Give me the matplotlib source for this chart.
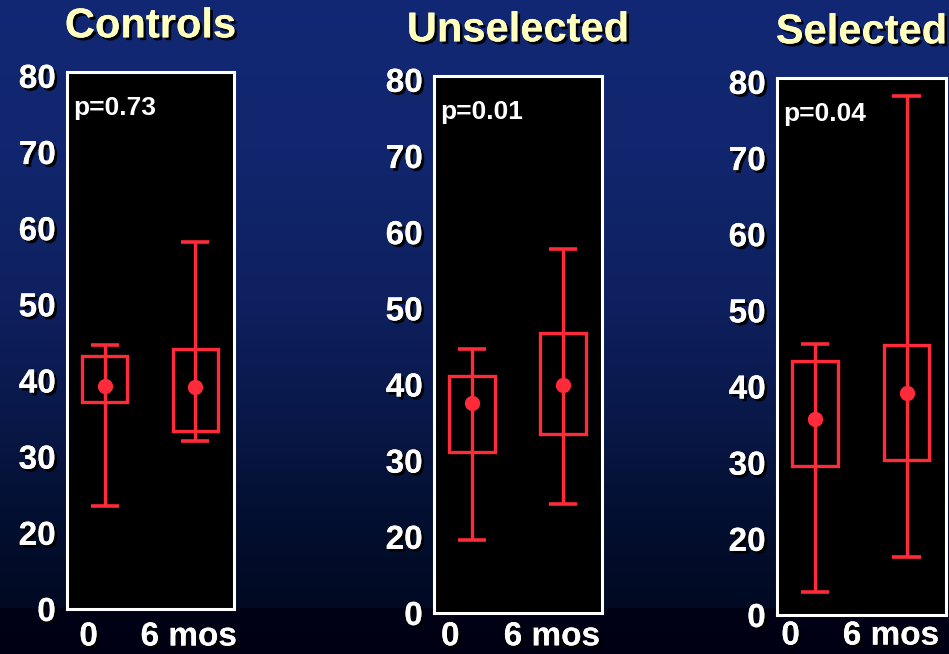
import numpy as np
import matplotlib
matplotlib.use("Agg")
import matplotlib.pyplot as plt
import matplotlib.patheffects as pe

plt.rcParams['font.family'] = ['Liberation Sans', 'DejaVu Sans']
plt.rcParams['font.weight'] = 'bold'

# group summaries: whisker low/high, box low/high, mean  (baseline, 6 months)
groups = ['Controls', 'Unselected', 'Selected']
p_values = ['p=0.73', 'p=0.01', 'p=0.04']
time_labels = ['0', '6 mos']

whisker_lo = [[23.5, 32.1], [19.2, 24.3], [6.0, 15.2]]
whisker_hi = [[44.7, 58.2], [44.7, 57.8], [45.6, 78.1]]
box_lo = [[37.2, 33.4], [31.2, 33.5], [29.6, 30.4]]
box_hi = [[43.2, 44.1], [41.1, 46.8], [43.4, 45.5]]
means = [[39.3, 39.2], [37.6, 40.0], [35.8, 39.2]]

y_ticks = [0, 20, 30, 40, 50, 60, 70, 80]

RED = '#ff2b3a'
TITLE = '#ffffbe'

# panel rectangles in figure fraction
panel_rects = [
    [0.0706, 0.0688, 0.176, 0.821],
    [0.4573, 0.0627, 0.177, 0.821],
    [0.8187, 0.0596, 0.178, 0.821],
]
xtick_pos = [[-0.18, 0.93], [-0.24, 0.88], [-0.27, 0.83]]
xtick_pad = [9, 6, 4]


def fwd(v):
    v = np.asarray(v, dtype=float)
    return np.where(v < 20, v / 2.0, v - 10.0)


def inv(u):
    u = np.asarray(u, dtype=float)
    return np.where(u < 10, u * 2.0, u + 10.0)


shadow = [pe.withSimplePatchShadow(offset=(2, -2), shadow_rgbFace='black', alpha=0.95),
          pe.Normal()]

fig = plt.figure(figsize=(9.49, 6.54), dpi=100)

# dark blue backdrop
bg = fig.add_axes([0, 0, 1, 1], zorder=-10)
rows = np.linspace(0, 654, 654)
stops_y = [0, 150, 300, 420, 520, 608, 609, 654]
stops_c = np.array([
    [18, 40, 116], [17, 38, 110], [14, 32, 95], [9, 24, 72],
    [3, 15, 48], [1, 10, 34], [0, 2, 22], [0, 0, 20]]) / 255.0
grad = np.stack([np.interp(rows, stops_y, stops_c[:, k]) for k in range(3)], axis=-1)
bg.imshow(grad[:, None, :], aspect='auto', extent=[0, 1, 0, 1], origin='upper')
bg.set_axis_off()

for i, name in enumerate(groups):
    ax = fig.add_axes(panel_rects[i])
    ax.set_facecolor('black')
    ax.set_yscale('function', functions=(fwd, inv))
    ax.set_ylim(0, 80.5)
    ax.set_xlim(-0.42, 1.43)

    pos = np.array([0, 1])
    ax.vlines(pos, whisker_lo[i], whisker_hi[i], color=RED, lw=2.4, zorder=3)
    for lo_hi in (whisker_lo[i], whisker_hi[i]):
        ax.hlines(lo_hi, pos - 0.155, pos + 0.155, color=RED, lw=2.6, zorder=3)
    heights = np.array(box_hi[i]) - np.array(box_lo[i])
    ax.bar(pos, heights, bottom=box_lo[i], width=0.5, fill=False,
           edgecolor=RED, linewidth=2.4, zorder=3)
    ax.plot(pos, means[i], 'o', color=RED, markersize=10, zorder=4)

    for s in ax.spines.values():
        s.set_color('white')
        s.set_linewidth(2.2)

    ax.set_yticks(y_ticks)
    ax.set_yticklabels([str(t) for t in y_ticks])
    ax.yaxis.set_minor_locator(matplotlib.ticker.NullLocator())
    ax.set_xticks(xtick_pos[i])
    ax.set_xticklabels(time_labels)
    ax.tick_params(axis='both', length=0, colors='white', labelsize=24)
    ax.tick_params(axis='y', pad=8)
    ax.tick_params(axis='x', pad=xtick_pad[i])
    for lab in ax.get_yticklabels() + ax.get_xticklabels():
        lab.set_fontweight('bold')
        lab.set_path_effects(shadow)

    ax.text(0.04, 0.933, p_values[i], transform=ax.transAxes, color='white',
            fontsize=19, fontweight='bold', va='center', ha='left')

    ax.set_title(name, color=TITLE, fontsize=30, fontweight='bold', pad=25,
                 path_effects=shadow)

fig.savefig('out.png', dpi=100)
